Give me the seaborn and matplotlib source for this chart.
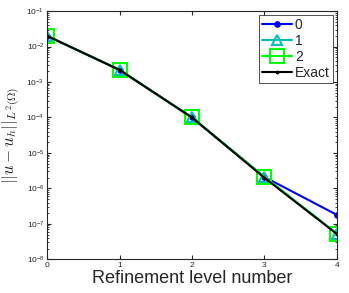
import numpy as np
import pandas as pd
import matplotlib
matplotlib.use('Agg')
import matplotlib.pyplot as plt
import seaborn as sns

levels = [0, 1, 2, 3, 4]
err_0 = [2.0e-2, 2.2e-3, 1.0e-4, 2.1e-6, 1.8e-7]
err_1 = [2.0e-2, 2.2e-3, 1.0e-4, 2.1e-6, 5.3e-8]
err_2 = [2.0e-2, 2.2e-3, 1.0e-4, 2.1e-6, 5.3e-8]
err_exact = [2.0e-2, 2.2e-3, 1.0e-4, 2.0e-6, 5.2e-8]
labels = ['0', '1', '2', 'Exact']

sns.set_style('ticks')
plt.rcParams['font.family'] = ['Liberation Sans', 'DejaVu Sans']
plt.rcParams['mathtext.fontset'] = 'cm'

df = pd.DataFrame({'level': levels * 4,
                   'err': err_0 + err_1 + err_2 + err_exact,
                   'series': sum([[l] * 5 for l in labels], [])})

fig, ax = plt.subplots(figsize=(3.49, 2.93), dpi=100)
styles = {
    '0': dict(color='b', marker='o', markersize=4, mfc='b', mec='b', lw=1.5),
    '1': dict(color='c', marker='^', markersize=7, mfc='none', mec='c', mew=1.5, lw=1.5),
    '2': dict(color='#00ff00', marker='s', markersize=10, mfc='none', mec='#00ff00', mew=1.5, lw=1.5),
    'Exact': dict(color='k', marker='.', markersize=4, mfc='k', mec='k', lw=1.5),
}
for lab in labels:
    sub = df[df['series'] == lab]
    sns.lineplot(data=sub, x='level', y='err', ax=ax, label=lab, **styles[lab])

ax.set_yscale('log')
ax.set_xlim(0, 4)
ax.set_ylim(1e-8, 1e-1)
ax.set_xticks(levels)
ax.set_yticks([10.0 ** k for k in range(-8, 0)])
ax.tick_params(labelsize=6, direction='in', length=3, pad=2, top=True, right=True)
ax.tick_params(which='minor', direction='in', length=1.5, right=True)
ax.set_xlabel('Refinement level number', fontsize=13, labelpad=1)
ax.set_ylabel(r'$||u-u_h||_{L^2(\Omega)}$', fontsize=12)
ax.yaxis.set_label_coords(-0.085, 0.5)
leg = ax.legend(loc='upper right', fontsize=10, frameon=True, fancybox=False,
                edgecolor='k', handlelength=2.2, handletextpad=0.2,
                borderpad=0.2, labelspacing=0.15, borderaxespad=0.3)
leg.get_frame().set_linewidth(0.6)
for s in ax.spines.values():
    s.set_linewidth(0.8)
fig.subplots_adjust(left=0.135, right=0.965, bottom=0.115, top=0.962)
fig.savefig('out.png', dpi=100)
